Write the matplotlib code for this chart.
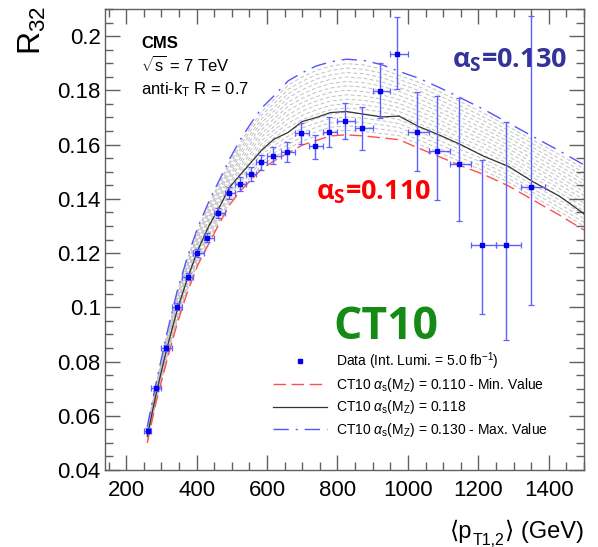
import matplotlib
matplotlib.use("Agg")
import matplotlib.pyplot as plt
import numpy as np
from matplotlib.ticker import MultipleLocator, FuncFormatter
from matplotlib.lines import Line2D

plt.rcParams['font.family'] = ['Liberation Sans', 'DejaVu Sans']
plt.rcParams['mathtext.fontset'] = 'custom'
plt.rcParams['mathtext.rm'] = 'Liberation Sans'
plt.rcParams['mathtext.it'] = 'Liberation Sans:italic'
plt.rcParams['mathtext.bf'] = 'Open Sans:bold'

# ---------------- data ----------------
pt = [262, 285, 314, 344, 375, 402, 431, 460, 492, 523, 554, 583, 617, 658,
      697, 736, 776, 821, 870, 920, 970, 1026, 1084, 1144, 1209, 1278, 1349]
r32 = [0.0545, 0.0701, 0.0849, 0.1002, 0.1113, 0.1200, 0.1257, 0.1347, 0.1421,
       0.1455, 0.1492, 0.1535, 0.1559, 0.1571, 0.1642, 0.1593, 0.1647, 0.1688,
       0.1660, 0.1799, 0.1935, 0.1645, 0.1577, 0.1530, 0.1231, 0.1229, 0.1442]
bin_lo = [250, 270, 300, 330, 360, 390, 420, 450, 480, 510, 540, 570, 600, 640,
          680, 720, 760, 800, 850, 900, 950, 1000, 1060, 1120, 1180, 1250, 1320]
bin_hi = [270, 300, 330, 360, 390, 420, 450, 480, 510, 540, 570, 600, 640, 680,
          720, 760, 800, 850, 900, 950, 1000, 1060, 1120, 1180, 1250, 1320, 1390]
err_dn = [0.0010, 0.0010, 0.0011, 0.0012, 0.0013, 0.0015, 0.0017, 0.0019, 0.0023,
          0.0025, 0.0026, 0.0028, 0.0031, 0.0037, 0.0039, 0.0047, 0.0056, 0.0068,
          0.0079, 0.0101, 0.0130, 0.0143, 0.0183, 0.0211, 0.0255, 0.0350, 0.0433]
err_up = [0.0010, 0.0010, 0.0011, 0.0012, 0.0013, 0.0015, 0.0017, 0.0019, 0.0023,
          0.0025, 0.0026, 0.0028, 0.0031, 0.0037, 0.0038, 0.0044, 0.0054, 0.0065,
          0.0078, 0.0101, 0.0135, 0.0150, 0.0202, 0.0243, 0.0313, 0.0453, 0.0633]

th_pt = [260, 285, 315, 345, 375, 405, 435, 465, 495, 525, 555, 585, 620, 660,
         700, 740, 780, 825, 875, 925, 975, 1030, 1090, 1150, 1215, 1285, 1355,
         1430, 1500]
th_118 = [0.0525, 0.0680, 0.0845, 0.0990, 0.1110, 0.1215, 0.1300, 0.1370, 0.1445,
          0.1490, 0.1535, 0.1580, 0.1620, 0.1645, 0.1685, 0.1700, 0.1718, 0.1722,
          0.1712, 0.1702, 0.1705, 0.1667, 0.1635, 0.1600, 0.1557, 0.1520, 0.1463,
          0.1410, 0.1345]
th_110 = [0.0500, 0.0650, 0.0800, 0.0940, 0.1060, 0.1160, 0.1235, 0.1310, 0.1380,
          0.1430, 0.1470, 0.1510, 0.1540, 0.1569, 0.1598, 0.1615, 0.1632, 0.1636,
          0.1632, 0.1625, 0.1618, 0.1587, 0.1555, 0.1522, 0.1490, 0.1448, 0.1396,
          0.1340, 0.1285]
th_130 = [0.0560, 0.0720, 0.0900, 0.1060, 0.1190, 0.1300, 0.1390, 0.1470, 0.1550,
          0.1620, 0.1680, 0.1735, 0.1780, 0.1835, 0.1865, 0.1890, 0.1905, 0.1915,
          0.1910, 0.1895, 0.1870, 0.1845, 0.1810, 0.1772, 0.1730, 0.1680, 0.1630,
          0.1577, 0.1525]

xticks = [200, 400, 600, 800, 1000, 1200, 1400]
yticks = [0.04, 0.06, 0.08, 0.10, 0.12, 0.14, 0.16, 0.18, 0.20]

# ---------------- figure ----------------
W, H = 598, 547
fig = plt.figure(figsize=(W / 100, H / 100), dpi=100)
ax = fig.add_axes([105 / W, 1 - 470 / H, (584 - 105) / W, (470 - 9) / H])

def px(x, y):
    return x / W, 1 - y / H

# band of intermediate predictions (hatching)
lo = np.array(th_110)
hi = np.array(th_130)
nb = 16
for k in range(1, nb + 1):
    f = k / (nb + 1)
    ax.plot(th_pt, lo + f * (hi - lo), color='#c2c2c2', lw=0.7,
            linestyle=(k % 3, (4.0, 2.5)), zorder=1)

ax.plot(th_pt, th_110, color='#ff5050', lw=1.0, linestyle=(0, (9, 4)), zorder=3)
ax.plot(th_pt, th_118, color='#333333', lw=0.9, zorder=3)
ax.plot(th_pt, th_130, color='#5555ff', lw=1.0, linestyle=(0, (11, 5, 1.5, 5)), zorder=3)

pt_a = np.array(pt)
xerr = [pt_a - np.array(bin_lo), np.array(bin_hi) - pt_a]
ax.errorbar(pt, r32, xerr=xerr, yerr=[err_dn, err_up], fmt='s', color='#0000ee',
            markersize=3.2, ecolor='#6060ff', elinewidth=1.0, capsize=2.0,
            capthick=0.9, zorder=5)

ax.set_xlim(140, 1500)
ax.set_ylim(0.04, 0.21)
ax.set_xticks(xticks)
ax.set_yticks(yticks)
ax.xaxis.set_minor_locator(MultipleLocator(50))
ax.yaxis.set_minor_locator(MultipleLocator(0.005))
ax.yaxis.set_major_formatter(FuncFormatter(lambda v, p: '%g' % round(v, 3)))
ax.tick_params(which='both', direction='in', top=True, right=True,
               color='#606060', width=1.0, labelsize=16)
ax.tick_params(which='major', length=11)
ax.tick_params(which='minor', length=5.5)
ax.tick_params(axis='x', pad=7)
ax.tick_params(axis='y', pad=3)
for s in ax.spines.values():
    s.set_color('#606060')
    s.set_linewidth(1.0)

# axis titles
fig.text(*px(32, 6), r'R$_{\mathregular{32}}$', rotation=90, ha='center', va='top',
         fontsize=23)
lab_fam = ['Liberation Sans', 'DejaVu Sans', 'Noto Sans CJK SC']
t3 = fig.text(*px(584, 543), '\u27e9 (GeV)', ha='right', va='bottom',
              fontsize=17, family=lab_fam)
t2 = ax.annotate('T1,2', xy=(0, 0), xycoords=t3, xytext=(-0.5, -3.5),
                 textcoords='offset points', ha='right', va='bottom',
                 fontsize=11.5, family=lab_fam, annotation_clip=False)
t1 = ax.annotate('\u27e8p', xy=(0, 0), xycoords=(t2, t3), xytext=(-0.3, 0),
                 textcoords='offset points', ha='right', va='bottom',
                 fontsize=17, family=lab_fam, annotation_clip=False)

# annotations
fig.text(*px(141, 44), 'CMS', fontsize=12, fontweight='bold', va='center', ha='left')
fig.text(*px(141, 65), r'$\sqrt{\mathregular{s}}$ = 7 TeV', fontsize=12, va='center', ha='left')
fig.text(*px(141, 90), r'anti-k$_{\mathregular{T}}$ R = 0.7', fontsize=12, va='center', ha='left')

fig.text(*px(452, 67), r'$\mathbf{\alpha_S}$=0.130', family='Open Sans', fontweight='bold',
         fontsize=19.5, color='#333399', va='baseline', ha='left')
fig.text(*px(316, 200), r'$\mathbf{\alpha_S}$=0.110', family='Open Sans', fontweight='bold',
         fontsize=19.5, color='#ff0000', va='baseline', ha='left')
fig.text(*px(333, 339), 'CT10', family='Open Sans', fontweight='bold',
         fontsize=32, color='#168a16', va='baseline', ha='left')

# legend
handles = [
    Line2D([], [], marker='s', linestyle='none', color='#0000ee', markersize=3),
    Line2D([], [], color='#ff5050', lw=1.0, linestyle=(0, (9, 4))),
    Line2D([], [], color='#333333', lw=0.9),
    Line2D([], [], color='#5555ff', lw=1.0, linestyle=(0, (11, 5, 1.5, 5))),
]
labels = [
    r'Data (Int. Lumi. = 5.0 fb$^{\mathregular{-1}}$)',
    r'CT10 $\alpha_{\mathregular{s}}$(M$_{\mathregular{Z}}$) = 0.110 - Min. Value',
    r'CT10 $\alpha_{\mathregular{s}}$(M$_{\mathregular{Z}}$) = 0.118',
    r'CT10 $\alpha_{\mathregular{s}}$(M$_{\mathregular{Z}}$) = 0.130 - Max. Value',
]
fig.legend(handles, labels, loc='upper left', bbox_to_anchor=px(273, 350),
           frameon=False, fontsize=10, handlelength=3.9, handletextpad=0.6,
           labelspacing=0.32, borderpad=0, borderaxespad=0)

fig.savefig('out.png', dpi=100)
